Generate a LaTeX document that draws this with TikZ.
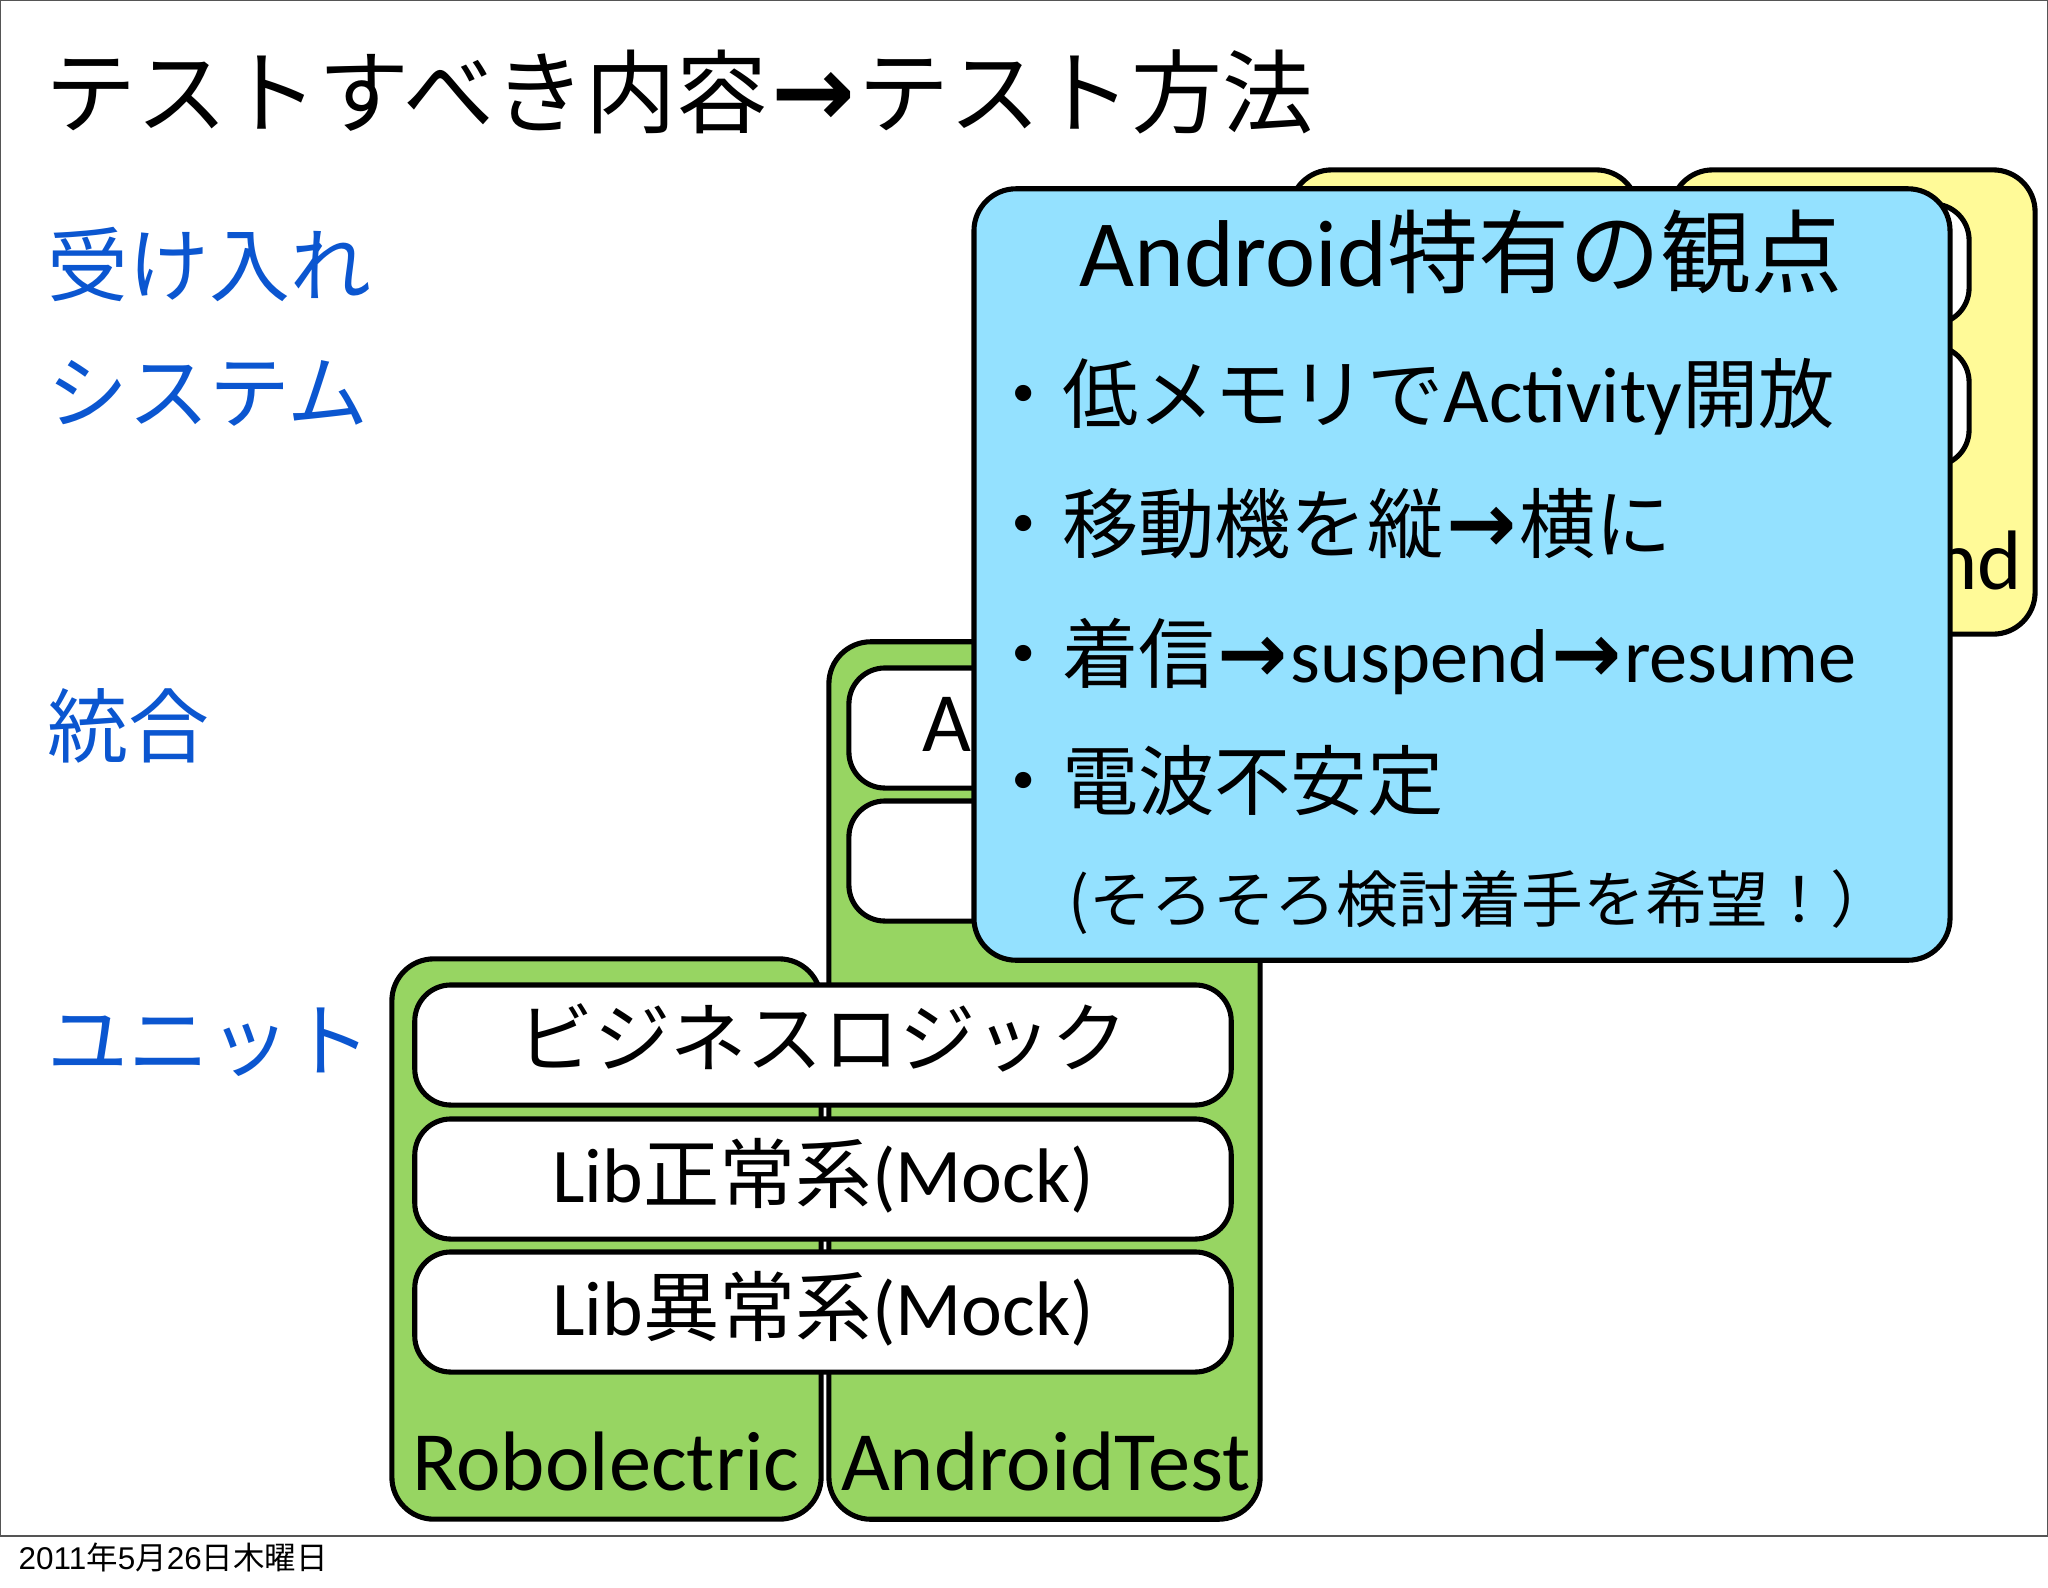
\documentclass[tikz,border=0pt]{standalone}
\usepackage{fontspec}
\setmainfont{Noto Sans CJK JP}
\newfontfamily\gill{Carlito}
\newfontfamily\helv{Liberation Sans}
\newfontfamily\dejavu[Scale=1.1]{DejaVu Sans}
\definecolor{yellowfill}{HTML}{FFFA98}
\definecolor{greenfill}{HTML}{97D562}
\definecolor{bluefill}{HTML}{94E1FF}
\definecolor{labelblue}{HTML}{0B56D0}
\definecolor{framegray}{HTML}{555555}
\newcommand{\titlesize}{\fontsize{25.9pt}{30pt}\selectfont}
\newcommand{\sidesize}{\fontsize{23pt}{26pt}\selectfont}
\newcommand{\bigsize}{\fontsize{21.7pt}{26pt}\selectfont}
\newcommand{\latinsize}{\fontsize{24pt}{26pt}\selectfont}
\newcommand{\mocksize}{\fontsize{22pt}{26pt}\selectfont}
\newcommand{\smallsize}{\fontsize{17.55pt}{20pt}\selectfont}
\newcommand{\thickarrow}{\kern.035em{\dejavu\bfseries →}\kern.035em}
\tikzset{
  panel/.style = {draw, line width = 1.45pt, rounded corners = .42cm, inner sep = 0pt},
  yellowbox/.style = {panel, fill = yellowfill, minimum height = 4.64cm},
  greenbox/.style = {panel, fill = greenfill},
  whitebox/.style = {panel, fill = white, rounded corners = .36cm, minimum height = 1.2cm},
  wide/.style = {whitebox, minimum width = 8.16cm},
  side/.style = {anchor = west, inner sep = 0pt, text = labelblue, font = \sidesize},
  linetext/.style = {anchor = west, inner sep = 0pt, font = \bigsize},
  latin/.style = {anchor = base, inner sep = 0pt, font = \gill\latinsize},
}
\begin{document}
\begin{tikzpicture}[x = .01cm, y = -.01cm]
  \useasboundingbox (0,0) rectangle (2048,1587);
  \fill [white] (0,0) rectangle (2048,1587);
  \draw [framegray, line width = .7pt] (0,0) rectangle (2048,1536);
  \node [anchor = west, inner sep = 0pt, font = \titlesize] (title) at (45,92) {テストすべき内容\thickarrow テスト方法};
  \node [side] (accept) at (47,265) {受け入れ};
  \node [side] (system) at (47,393) {システム};
  \node [side] (integ) at (47,726) {統合};
  \node [side] (unit) at (47,1042) {ユニット};
  % top right
  \node [yellowbox, minimum width = 3.48cm] (yellowa) at (1464,402) {};
  \node [yellowbox, minimum width = 3.64cm] (yellowb) at (1853,402) {};
  \node [whitebox, minimum width = 2.78cm] (yellowc) at (1830,264) {};
  \node [whitebox, minimum width = 2.78cm] (yellowd) at (1830,406) {};
  \node [latin, anchor = base east] (nd) at (2023,589) {nd};
  % green columns
  \node [greenbox, minimum width = 4.31cm, minimum height = 8.77cm] (android) at (1044.5,1080.5) {};
  \node [whitebox, minimum width = 3.7cm] (androida) at (1034,728) {};
  \node [whitebox, minimum width = 3.7cm] (androidb) at (1034,861) {};
  \node [latin, anchor = base west] (letter) at (922,751) {A};
  \node [greenbox, minimum width = 4.29cm, minimum height = 5.6cm] (robo) at (606.5,1239) {};
  \node [wide] (logic) at (823,1045) {};
  \node [wide] (normal) at (823,1179) {};
  \node [wide] (abnormal) at (823,1312) {};
  \node [inner sep = 0pt, font = \bigsize] (logictext) at (823,1038) {ビジネスロジック};
  \node [latin, font = \bigsize] (normaltext) at (823,1202) {{\gill\mocksize Lib}正常系{\gill\mocksize (Mock)}};
  \node [latin, font = \bigsize] (abnormaltext) at (823,1335) {{\gill\mocksize Lib}異常系{\gill\mocksize (Mock)}};
  \node [latin] (robolabel) at (606,1490) {Robolectric};
  \node [latin] (androidlabel) at (1046,1490) {AndroidTest};
  % blue card
  \node [panel, fill = bluefill, minimum width = 9.755cm, minimum height = 7.71cm] (card) at (1462,574.5) {};
  \node [inner sep = 0pt, font = \titlesize] (cardtitle) at (1461,252) {{\gill\fontsize{27pt}{30pt}\selectfont Android}特有の観点};
  \node [linetext] (linea) at (985,397) {・低メモリで{\gill\fontsize{22.4pt}{26pt}\selectfont Activity}開放};
  \node [linetext] (lineb) at (985,524) {・移動機を縦\thickarrow 横に};
  \node [linetext] (linec) at (985,656) {・着信\thickarrow{\gill suspend}\thickarrow{\gill resume}};
  \node [linetext] (lined) at (985,781) {・電波不安定};
  \node [anchor = west, inner sep = 0pt, font = \smallsize] (linee) at (1068,902) {(そろそろ検討着手を希望！）};
  % date
  \node [anchor = west, inner sep = 0pt, font = \fontsize{8.95pt}{10pt}\selectfont] (date) at (18,1557) {{\helv 2011}年{\helv 5}月{\helv 26}日木曜日};
\end{tikzpicture}
\end{document}
